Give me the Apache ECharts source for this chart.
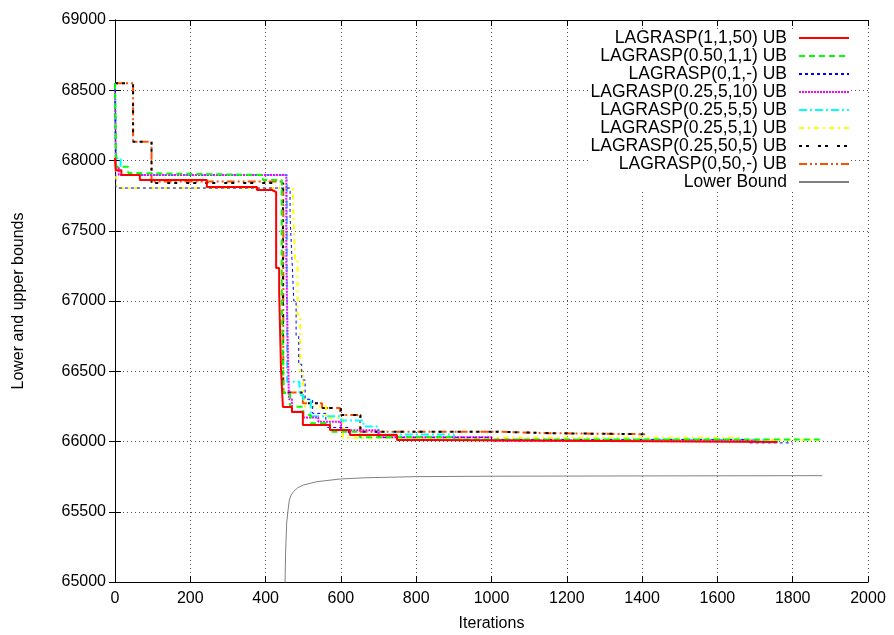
<!DOCTYPE html>
<html>
<head>
<meta charset="utf-8">
<script src="https://cdn.jsdelivr.net/npm/echarts@6/dist/echarts.min.js"></script>
<style>html,body{margin:0;padding:0;background:#fff}#c{width:894px;height:635px}</style>
</head>
<body>
<div id="c"></div>
<script>
// Tick values
const xTicks = [0,200,400,600,800,1000,1200,1400,1600,1800,2000];
const yTicks = [65000,65500,66000,66500,67000,67500,68000,68500,69000];

// Series names
const names = ["LAGRASP(1,1,50) UB","LAGRASP(0.50,1,1) UB","LAGRASP(0,1,-) UB","LAGRASP(0.25,5,10) UB","LAGRASP(0.25,5,5) UB","LAGRASP(0.25,5,1) UB","LAGRASP(0.25,50,5) UB","LAGRASP(0,50,-) UB","Lower Bound"];

// [iteration, value] step points
const ub_1_1_50 = [[0,68020],[2,67930],[17,67897],[66,67861],[244,67811],[377,67790],[417,67776],[428,67235],[436,67064],[441,66509],[446,66246],[470,66210],[499,66118],[571,66082],[624,66046],[749,66011],[845,65997],[1760,65997]];
const ub_050_1_1 = [[0,68550],[3,67956],[35,67911],[50,67897],[393,67861],[443,67000],[448,66345],[465,66248],[500,66189],[520,66130],[571,66070],[650,66030],[900,66015],[1880,66008]];
const ub_0_1 = [[0,68550],[2,67804],[465,67600],[470,67300],[475,67000],[481,66750],[488,66550],[496,66438],[505,66300],[525,66200],[560,66100],[620,66050],[700,66030],[1000,66015],[1680,65990],[1800,65990]];
const ub_025_5_10 = [[0,68550],[2,67950],[10,67897],[455,67300],[458,66800],[462,66300],[470,66212],[500,66170],[540,66141],[600,66080],[700,66030],[1000,66005],[1700,65998]];
const ub_025_5_5 = [[0,68550],[3,68018],[15,67897],[457,66426],[490,66330],[500,66300],[520,66180],[600,66150],[660,66106],[700,66050],[900,66010],[1730,66006]];
const ub_025_5_1 = [[0,68000],[5,67804],[473,67700],[478,67300],[485,66900],[492,66500],[500,66345],[505,66250],[560,66167],[605,66027],[1660,66010],[1870,66010]];
const ub_025_50_5 = [[0,68550],[48,68134],[97,67840],[446,66348],[500,66272],[552,66238],[600,66189],[652,66070],[1015,66059],[1155,66052],[1410,66052]];
const ub_0_50 = [[0,68550],[48,68134],[97,67850],[447,66348],[499,66272],[550,66238],[598,66189],[651,66070],[1015,66059],[1155,66052],[1408,66052]];
const lowerBound = [[451,64900],[453,65200],[456,65420],[460,65520],[463,65584],[468,65620],[474,65643],[485,65670],[500,65690],[536,65714],[598,65733],[668,65742],[801,65750],[1000,65753],[1400,65755],[1878,65757]];

const dataList = [ub_1_1_50, ub_050_1_1, ub_0_1, ub_025_5_10, ub_025_5_5, ub_025_5_1, ub_025_50_5, ub_0_50, lowerBound];
const colors = ['#ff0000','#00ff00','#0000ff','#ff00ff','#00ffff','#ffff00','#000000','#ff4f00','#808080'];
const dashes = ['solid',[6,4],[3,3],[2,1],[8,3,2,3],[5,4,2,4],[3,4,3,9],[8,3,2,3,2,3],'solid'];
const widths = [2,2,1,2,2,2,2,2,1];

const font = 'Liberation Sans, Arial, sans-serif';
const series = names.map((n,i)=>({
  name:n, type:'line', data:dataList[i], step: i<8 ? 'end' : false,
  symbol:'none', showSymbol:false, clip:true, z: 10-i,
  lineStyle:{color:colors[i], width:widths[i], type:dashes[i]},
  itemStyle:{color:colors[i]}
}));

const chart = echarts.init(document.getElementById('c'), null, {renderer:'canvas'});
chart.setOption({
  animation:false,
  backgroundColor:'#fff',
  grid:{left:115, right:26, top:20, bottom:53, containLabel:false, outerBoundsMode:'none'},
  xAxis:[{
    type:'value', min:0, max:2000, interval:200,
    name:'Iterations', nameLocation:'middle', nameGap:34,
    nameTextStyle:{fontFamily:font, fontSize:16, color:'#000'},
    axisLine:{show:true, lineStyle:{color:'#000', width:1}},
    axisTick:{show:true, inside:true, length:6, lineStyle:{color:'#000'}},
    axisLabel:{fontFamily:font, fontSize:16, color:'#000', margin:9, formatter:v=>String(v)},
    splitLine:{show:true, lineStyle:{color:'#555', type:[1,3], width:1}}
  },{
    type:'value', min:0, max:2000, interval:200, position:'top',
    axisLine:{show:true, lineStyle:{color:'#000', width:1}},
    axisTick:{show:true, inside:true, length:6, lineStyle:{color:'#000'}},
    axisLabel:{show:false}, splitLine:{show:false}
  }],
  yAxis:[{
    type:'value', min:65000, max:69000, interval:500,
    name:'Lower and upper bounds', nameLocation:'middle', nameGap:88,
    nameTextStyle:{fontFamily:font, fontSize:16, color:'#000'},
    axisLine:{show:true, lineStyle:{color:'#000', width:1}},
    axisTick:{show:true, inside:true, length:6, lineStyle:{color:'#000'}},
    axisLabel:{fontFamily:font, fontSize:16, color:'#000', margin:9, formatter:v=>String(v)},
    splitLine:{show:true, lineStyle:{color:'#555', type:[1,3], width:1}}
  },{
    type:'value', min:65000, max:69000, interval:500, position:'right',
    axisLine:{show:true, lineStyle:{color:'#000', width:1}},
    axisTick:{show:true, inside:true, length:6, lineStyle:{color:'#000'}},
    axisLabel:{show:false}, splitLine:{show:false}
  }],
  legend:{
    orient:'vertical', align:'right', right:44, top:29, padding:0,
    itemWidth:50, itemHeight:10, itemGap:0,
    backgroundColor:'#fff',
    itemStyle:{opacity:0, borderWidth:0},
    textStyle:{fontFamily:font, fontSize:17.5, color:'#000', lineHeight:18, padding:[0,7,0,0]},
    data:names
  },
  series:series
});
</script>
</body>
</html>
